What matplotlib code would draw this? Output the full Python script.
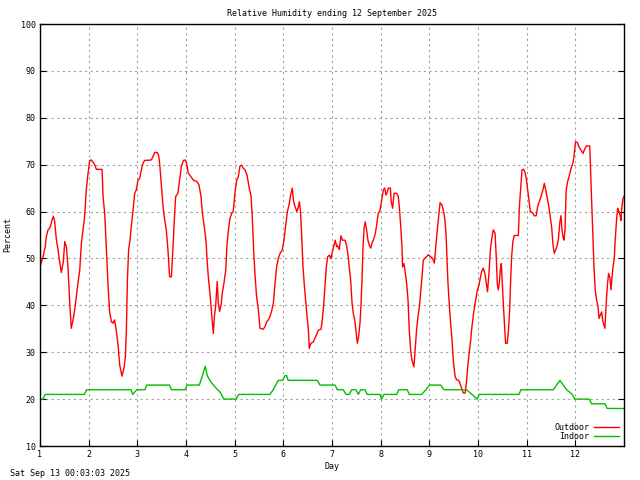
import numpy as np
import matplotlib
matplotlib.use("Agg")
import matplotlib.pyplot as plt

#########################################
#DATA (hours from start of day 1, percent)
#########################################
out_hours=[0,1.3,2.6,3.1,3.9,5.2,5.9,6.6,7.2,8.0,8.9,9.7,10.5,11.5,12.2,13.0,13.8,14.6,15.4,16.3,
    17.1,17.9,18.7,19.6,20.4,21.2,22.0,22.8,23.7,24.5,25.3,27.0,27.8,30.6,31.1,31.9,32.7,33.5,34.3,35.2,
    36.0,36.8,37.6,38.5,39.3,40.4,41.4,42.1,42.6,43.1,43.7,44.4,45.0,45.9,46.7,47.5,48.3,49.1,50.0,50.8,
    51.6,54.9,55.7,56.5,57.9,58.5,59.0,59.8,60.7,61.5,62.3,63.1,63.9,64.8,65.6,66.4,66.9,68.0,68.9,69.7,
    70.7,71.7,72.3,73.1,74.5,75.6,77.3,78.4,79.4,80.0,81.0,81.9,82.5,83.0,83.8,84.3,85.0,85.5,86.0,86.6,
    87.1,87.4,87.9,88.6,89.3,89.9,90.7,91.6,92.2,92.9,93.7,94.5,95.3,96.2,97.0,97.8,98.6,99.4,100.3,101.1,
    102.1,103.2,104.1,104.7,105.4,106.0,106.8,107.7,108.5,110.1,111.0,111.8,112.6,113.4,114.2,115.1,115.9,116.7,117.5,118.4,
    119.5,120.3,121.1,122.0,122.8,123.6,124.4,125.1,125.8,126.7,127.4,127.9,128.4,129.0,129.7,130.4,131.0,131.7,132.3,132.8,
    133.6,134.8,135.6,136.6,137.3,138.6,139.2,139.9,140.5,141.2,141.9,142.7,143.5,144.2,145.0,145.6,146.3,
    146.6,147.6,148.4,149.2,150.4,151.2,152.0,152.5,153.2,153.9,154.5,155.2,155.8,156.5,157.1,157.8,158.3,158.8,159.3,159.9,
    160.4,161.1,161.7,162.4,163.1,163.7,164.7,165.4,166.0,166.8,167.7,168.5,169.3,170.0,170.6,171.3,171.8,172.8,173.2,173.9,
    174.6,175.9,176.7,177.2,177.9,178.5,178.8,179.5,180.2,180.8,181.5,182.1,182.8,183.4,184.4,185.1,185.7,186.4,187.1,187.7,
    188.4,189.0,189.9,190.7,191.5,192.6,193.6,194.5,195.1,195.9,196.6,197.3,198.2,198.9,199.6,200.2,200.7,201.2,201.9,202.5,
    203.2,203.8,204.7,205.5,206.5,207.4,208.1,208.8,209.7,210.4,211.1,211.7,212.4,213.0,213.7,214.4,215.0,215.7,216.5,217.1,
    217.8,218.6,219.4,220.3,220.7,221.4,222.1,222.7,223.5,224.4,225.0,225.5,226.0,226.5,227.0,227.5,228.0,228.6,229.3,229.6,
    230.4,231.1,231.6,232.1,232.6,233.2,233.9,235.9,236.4,237.0,237.7,238.5,239.2,239.8,240.5,241.1,241.8,242.8,243.8,244.7,
    245.4,246.2,247.1,248.0,248.7,249.4,250.3,251.0,251.7,252.3,253.0,253.6,254.3,254.9,255.6,256.3,256.9,257.4,257.9,258.4,
    258.9,259.5,260.2,260.9,261.5,262.2,262.8,263.3,264.1,265.0,265.8,266.8,267.8,268.4,269.4,271.1,271.5,272.0,272.7,273.2,
    273.8,274.5,275.2,275.7,276.3,277.0,277.6,278.6,279.3,279.9,280.4,281.1,281.6,282.1,282.6,283.2,283.7,284.4,284.9,285.5,
    286.2,286.5,286.8,287.5,288.0]
outdoor=[48.2,50,52.5,54.6,56,56.8,58.2,59,58,54.3,51.8,49.3,47,49.3,53.6,52.5,48.2,41,35.1,36.9,
    39,41.9,44.7,47.5,53.2,56,58.9,64.6,68.2,70.9,71,70,69,69,63.2,59.6,52.5,44.7,38.7,36.5,
    36.2,36.9,34.7,31.5,27.3,24.9,26.6,29,34.7,45.4,51.8,53.9,56.8,60.3,63.9,64.6,66.7,67,68.9,70.3,
    70.9,71,71.7,72.6,72.6,72,70.3,66,61,58.2,56,51.8,46.1,46.1,52.5,59.6,63.2,63.9,67,69.6,
    70.9,71,70.3,68.2,67.4,66.7,66.4,65.7,63.2,60,56.8,53.6,49,46.1,42.6,40.1,36.2,34,37.6,39.7,
    43.3,45.1,40.5,38.7,40.1,42.6,44.7,47.5,52.8,56,58.6,59.6,60,64.2,66.7,67.4,69.7,69.9,69.2,68.9,
    67.8,65,63.2,58.6,51.5,46.8,41.9,39,35.1,34.9,35.5,36.5,36.9,37.6,38.7,40.5,44.7,48.2,50,51.1,
    51.8,53.9,56.8,60,61.4,63.5,65,62.1,61,60,61,62.1,60.3,55.4,48.2,44,41.1,37.6,35.1,30.8,
    31.9,32.2,33,34,34.7,34.9,36.9,40.1,44,48.2,50.4,50.7,50,51.5,52.8,53.9,52.5,
    52.8,51.9,54.8,53.9,53.9,52.8,50.4,48.2,45.4,40.4,38.3,36.9,34.7,31.9,33.3,36.2,40.1,45.4,52.5,56.8,
    57.8,56,53.9,52.8,52.2,53.2,54.3,55.4,57.1,59.6,60.3,62.5,64.6,65,63.5,64.2,65,65,62.1,60.7,
    63.9,63.9,63.2,61,56.8,52.5,48.2,48.9,46.8,44.7,41.1,34.7,30.4,28.3,26.9,31.1,34.7,37.6,39.7,42.6,
    46.1,49.6,50.1,50.4,50.8,50.4,50,49,52.2,56,58.9,61.9,61.4,60.3,58.6,55.4,50,44.7,39.7,36.2,
    32.6,28.3,24.8,24.1,24,23,22,21.3,21.3,24.1,27.6,30.1,32.6,35.4,37.9,40.1,41.5,43.3,44.3,45.8,
    47.2,47.9,46.8,44,42.9,46.8,51.8,53.9,56.1,55.4,50.4,44.7,43.3,44.7,47.5,48.9,44.7,39.4,34.4,31.9,
    31.9,35.1,39,45.4,50.4,53.6,54.9,54.9,61,64.6,68.9,69,68.3,67.1,64.6,62.5,60,59.8,59.1,59.1,
    61,62.1,63.2,64.6,66,64.6,62.5,61,58.6,56.8,52.9,51.1,51.8,52.5,53.9,57.5,59.1,56.1,54.6,53.9,
    56.1,64.6,66.4,67.4,68.5,69.6,70.3,71.7,74.9,74.7,73.8,73.1,72.4,73.1,74,74,68.9,62.8,54.3,48.2,
    43.3,41.1,39.7,37.2,37.9,38.6,36.5,35.1,41.1,44.7,46.8,45.8,43.3,46.1,48.2,50,54.3,58.6,60.7,60,
    58.9,58.1,60.3,62.8,63.2]

in_hours=[0,1.5,2.5,21.9,23.0,44.9,45.7,47.7,51.8,52.6,63.8,64.9,71.5,72.6,78.6,81.5,82.5,83.8,85.5,87.1,
    88.8,90.7,96.6,98.0,113.4,115.0,117.5,119.7,120.8,121.6,122.4,136.7,138.1,145.5,146.6,149.6,150.9,152.5,153.7,155.8,
    157.0,158.1,160.3,161.4,167.7,168.5,169.6,175.9,176.9,181.1,182.1,188.2,190.3,192.0,197.6,199.2,210.4,215.6,216.6,236.2,
    237.2,253.1,256.4,259.7,262.5,263.8,270.9,272.0,278.6,279.7,288.0]
indoor=[20,20,21,21,22,22,21,22,22,23,23,22,22,23,23,27,25,24,23,22.2,
    21.5,20,20,21,21,22,24,24,25,25,24,24,23,23,22,22,21,21,22,22,
    21,22,22,21,21,20,21,21,22,22,21,21,22,23,23,22,22,20,21,21,
    22,22,24,22,21,20,20,19,19,18,18]

day_ticks=[1,2,3,4,5,6,7,8,9,10,11,12]
pct_ticks=[10,20,30,40,50,60,70,80,90,100]

#########################################
#FIGURE
#########################################
plt.rcParams['font.family']='DejaVu Sans Mono'
fig=plt.figure(figsize=(6.4,4.8),dpi=100)
ax=fig.add_axes([40/640,1-446/480,584/640,422/480])

out_day=1+np.array(out_hours)/24.
in_day=1+np.array(in_hours)/24.
ax.plot(out_day,outdoor,color='#ff0000',lw=1.0,label='Outdoor')
ax.plot(in_day,indoor,color='#00c000',lw=1.0,label='Indoor')

ax.set_xlim(1,13)
ax.set_ylim(10,100)
ax.set_xticks(day_ticks)
ax.set_yticks(pct_ticks)
ax.tick_params(direction='in',length=4,labelsize=6,top=False,right=True,pad=3)
ax.grid(True,color='#a0a0a0',linestyle=(0,(2,3)),lw=0.8)
for s in ax.spines.values():
    s.set_linewidth(1.0)

ax.set_title('Relative Humidity ending 12 September 2025',fontsize=6,pad=6)
ax.set_xlabel('Day',fontsize=6,labelpad=2)
ax.set_ylabel('Percent',fontsize=6,labelpad=6)
fig.text(10/640,1-474/480,'Sat Sep 13 00:03:03 2025',fontsize=6,va='center',ha='left')

leg=ax.legend(loc='lower right',fontsize=6,frameon=False,markerfirst=False,
    handlelength=3,handletextpad=0.6,labelspacing=0.05,borderaxespad=0.2)
for t in leg.get_texts():
    t.set_ha('right')

fig.savefig('out.png',dpi=100)
